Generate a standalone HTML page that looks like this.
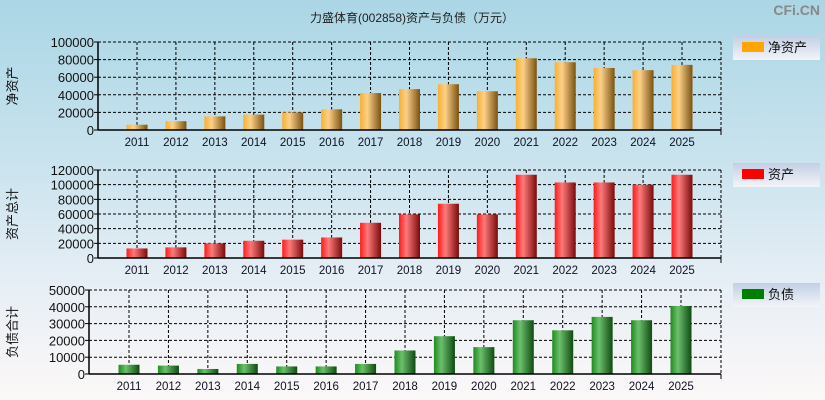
<!DOCTYPE html>
<html><head><meta charset="utf-8"><style>
html,body{margin:0;padding:0}
body{width:825px;height:400px;overflow:hidden;background:linear-gradient(#abd6e5 0%,#c9e3ee 40%,#e6eef5 70%,#fcf8f8 100%);font-family:"Liberation Sans","Noto Sans CJK SC",sans-serif}
svg{position:absolute;left:0;top:0}
</style></head><body>
<svg id="c" width="825" height="400">
<defs>
<linearGradient id="gO" x1="0" x2="1"><stop offset="0" stop-color="#f8b030"/><stop offset="0.35" stop-color="#fcd089"/><stop offset="1" stop-color="#7a5210"/></linearGradient>
<linearGradient id="gR" x1="0" x2="1"><stop offset="0" stop-color="#ff1a1a"/><stop offset="0.35" stop-color="#ff7a7a"/><stop offset="1" stop-color="#7a0a0a"/></linearGradient>
<linearGradient id="gG" x1="0" x2="1"><stop offset="0" stop-color="#1f8a1f"/><stop offset="0.35" stop-color="#6cc06c"/><stop offset="1" stop-color="#0f4a12"/></linearGradient>
<linearGradient id="gL" x1="0" y1="0" x2="0" y2="1"><stop offset="0" stop-color="#c2cfe4"/><stop offset="1" stop-color="#f3f4f9"/></linearGradient>
</defs>
<text x="412" y="22" font-size="12" text-anchor="middle" fill="#222">力盛体育(002858)资产与负债（万元）</text>
<text x="820" y="15" font-size="14" font-weight="bold" text-anchor="end" fill="#888">CFi.CN</text>
</svg>
<script>
const years=["2011","2012","2013","2014","2015","2016","2017","2018","2019","2020","2021","2022","2023","2024","2025"];
const netAssets=[6000,10000,15500,17500,20000,23500,42000,46500,52000,44000,81500,77000,70500,68000,74000];
const totalAssets=[13000,14500,20000,23500,25000,28000,48000,59500,74000,59500,113500,103000,103000,100000,113500];
const liabilities=[5500,5000,3000,6000,4500,4500,6000,14000,22500,16000,32000,26000,34000,32000,40500];
const ticks1=[0,20000,40000,60000,80000,100000];
const ticks2=[0,20000,40000,60000,80000,100000,120000];
const ticks3=[0,10000,20000,30000,40000,50000];
const svg=document.getElementById('c');
const NS='http://www.w3.org/2000/svg';
function mk(tag,attrs,parent){const e=document.createElementNS(NS,tag);for(const k in attrs)e.setAttribute(k,attrs[k]);(parent||svg).appendChild(e);return e;}
function panel(p){
  const g=mk('g',{});
  
  
  const max=p.ticks[p.ticks.length-1];
  const y=v=>p.y1-(v/max)*(p.y1-p.y0);
  const step=(p.xLast-p.xFirst)/(years.length-1);
  const x=i=>p.xFirst+i*step;
  p.ticks.forEach(t=>{
    if(t>0){const l=mk('line',{x1:p.x0,x2:p.x1,y1:y(t),y2:y(t),stroke:'#000','stroke-dasharray':'3,2','stroke-width':1},g);
    }
    const tx=mk('text',{x:p.x0-4,y:y(t)+5,'font-size':13,'text-anchor':'end',fill:'#111'},g);tx.textContent=t;
    
    mk('line',{x1:p.x0-4,x2:p.x0,y1:y(t),y2:y(t),stroke:'#000'},g);
  });
  years.forEach((yr,i)=>{
    const l=mk('line',{x1:x(i),x2:x(i),y1:p.y0,y2:p.y1,stroke:'#000','stroke-dasharray':'3,2','stroke-width':1},g);
    
    const tx=mk('text',{x:x(i),y:p.y1+16,'font-size':11.5,'text-anchor':'middle',fill:'#112'},g);tx.textContent=yr;
    
  });
  mk('line',{x1:p.x1,x2:p.x1,y1:p.y0,y2:p.y1,stroke:'#000','stroke-dasharray':'3,2'},g);
  mk('line',{x1:p.x0,x2:p.x1,y1:p.y0,y2:p.y0,stroke:'#000','stroke-dasharray':'3,2'},g);
  p.data.forEach((v,i)=>{
    const r=mk('rect',{x:x(i)-10.5,y:y(v),width:21,height:p.y1-y(v),fill:p.fill},g);
    
  });
  mk('line',{x1:p.x0,x2:p.x1,y1:p.y1,y2:p.y1,stroke:'#000','stroke-width':1.5},g);
  mk('line',{x1:p.x0,x2:p.x0,y1:p.y0,y2:p.y1,stroke:'#000','stroke-width':1.5},g);
  mk('line',{x1:p.x1,x2:p.x1,y1:p.y1,y2:p.y1+5,stroke:'#000'},g);
  const cy=(p.y0+p.y1)/2;
  const at=mk('text',{x:0,y:0,'font-size':13,'text-anchor':'middle',fill:'#111',transform:'translate(17,'+cy+') rotate(-90)'},g);at.textContent=p.axis;
  
  const lg=mk('g',{},g);
  
  mk('rect',{x:733,y:p.ly,width:87,height:24,fill:'url(#gL)'},lg);
  mk('rect',{x:742,y:p.ly+6,width:22,height:10,fill:p.solid},lg);
  const lt=mk('text',{x:768,y:p.ly+16,'font-size':13,fill:'#111'},lg);lt.textContent=p.label;
}
panel({name:'net-assets',data:netAssets,ticks:ticks1,x0:98,x1:721,y0:42,y1:130,xFirst:137,xLast:682,fill:'url(#gO)',solid:'#ffa500',label:'净资产',axis:'净资产',ly:36});
panel({name:'total-assets',data:totalAssets,ticks:ticks2,x0:98,x1:721,y0:170,y1:258,xFirst:137,xLast:682,fill:'url(#gR)',solid:'#ff0000',label:'资产',axis:'资产总计',ly:163});
panel({name:'liabilities',data:liabilities,ticks:ticks3,x0:89,x1:721,y0:290,y1:374,xFirst:129,xLast:681,fill:'url(#gG)',solid:'#008000',label:'负债',axis:'负债合计',ly:283});
</script>
</body></html>
